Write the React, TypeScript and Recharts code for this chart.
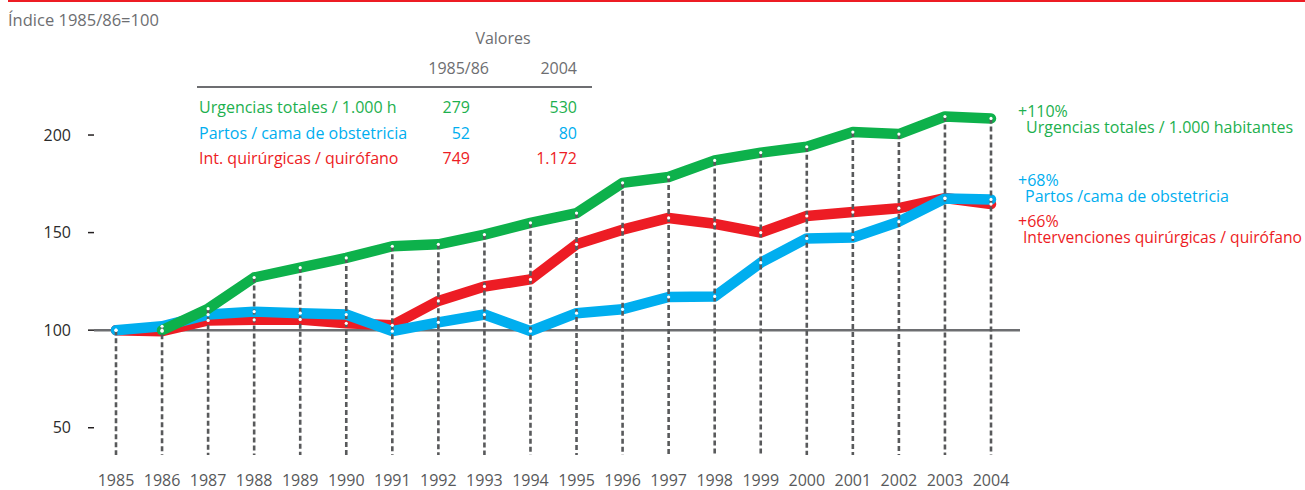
import React from 'react';
import { ComposedChart, Line, XAxis, YAxis, ReferenceLine } from 'recharts';

const YEARS = [1985, 1986, 1987, 1988, 1989, 1990, 1991, 1992, 1993, 1994, 1995, 1996, 1997, 1998, 1999, 2000, 2001, 2002, 2003, 2004];
// índice 1985/86 = 100
const URGENCIAS = [null, 100, 111, 127, 132, 137, 143, 144, 149, 155, 160, 175.5, 178.5, 187, 191, 194, 201.5, 200.5, 209.5, 208.5];
const PARTOS = [100, 102, 108, 109.5, 108.7, 108, 99.5, 104, 108, 99.5, 108.7, 110.7, 117, 117.3, 134.6, 147, 147.5, 155.6, 167.5, 167];
const QUIROFANO = [100, 99.5, 105, 105.3, 105.5, 103.5, 102.5, 115, 122.4, 126, 144, 151.5, 157.5, 154.5, 150, 158.5, 160.5, 162.5, 167.7, 164.6];
const Y_TICKS = [50, 100, 150, 200];

const TABLE_ROWS = [
  { label: 'Urgencias totales / 1.000 h', base: '279', last: '530', color: '#1db04e' },
  { label: 'Partos / cama de obstetricia', base: '52', last: '80', color: '#00aeef' },
  { label: 'Int. quirúrgicas / quirófano', base: '749', last: '1.172', color: '#ed1c24' },
];
const END_LABELS = [
  { pct: '+110%', name: 'Urgencias totales / 1.000 habitantes', color: '#1db04e' },
  { pct: '+68%', name: 'Partos /cama de obstetricia', color: '#00aeef' },
  { pct: '+66%', name: 'Intervenciones quirúrgicas / quirófano', color: '#ed1c24' },
];

const GREEN = '#0db14b';
const BLUE = '#00aeef';
const RED = '#ed1c24';
const GREY = '#6d6e71';
const FONT = '"Open Sans", "Noto Sans", sans-serif';

const W = 1305;
const H = 490;
const X_AXIS_H = 33;
const PLOT_BOTTOM = H - X_AXIS_H;

const data = YEARS.map((year, i) => {
  const vals = [URGENCIAS[i], PARTOS[i], QUIROFANO[i]].filter((v) => v != null) as number[];
  return {
    year,
    urg: URGENCIAS[i],
    partos: PARTOS[i],
    quir: QUIROFANO[i],
    top: Math.max(...vals),
  };
});

// línea punteada vertical desde el punto más alto hasta el pie del gráfico
const DropLine = (props: any) => {
  const { cx, cy, index } = props;
  if (cx == null || cy == null) return <g key={`d${index}`} />;
  return (
    <line
      key={`d${index}`}
      x1={cx} y1={cy} x2={cx} y2={PLOT_BOTTOM - 2}
      stroke="#58595b" strokeWidth={2.6} strokeDasharray="5 3"
    />
  );
};

const lineProps = {
  type: 'linear' as const,
  strokeWidth: 10.5,
  strokeLinecap: 'round' as const,
  strokeLinejoin: 'round' as const,
  dot: { r: 1.6, fill: '#fff', stroke: '#fff', strokeWidth: 0 },
  activeDot: false as const,
  isAnimationActive: false,
};

export default function App() {
  return (
    <div style={{ position: 'absolute', left: 0, top: 0, width: W, height: H, fontFamily: FONT, background: '#fff' }}>
      <ComposedChart width={W} height={H} data={data} margin={{ top: 96, right: 285, bottom: 0, left: 0 }}>
        <XAxis
          dataKey="year" type="number" domain={[1985, 2004]} ticks={YEARS} interval={0}
          padding={{ left: 22, right: 29 }} height={X_AXIS_H}
          axisLine={false} tickLine={false} tickSize={0} tickMargin={18}
          tick={{ fill: '#58595b', fontSize: 16, fontFamily: FONT }}
        />
        <YAxis
          type="number" domain={[35, 220]} ticks={Y_TICKS} width={94}
          axisLine={false} tickLine={{ stroke: '#231f20', strokeWidth: 1.5 }}
          tickSize={6} tickMargin={17}
          tick={{ fill: '#2b2b2b', fontSize: 16, fontFamily: FONT }}
        />
        <ReferenceLine y={100} stroke={GREY} strokeWidth={2.5} />
        <Line dataKey="top" stroke="none" dot={DropLine} activeDot={false} isAnimationActive={false} />
        <Line dataKey="quir" stroke={RED} {...lineProps} />
        <Line dataKey="partos" stroke={BLUE} {...lineProps} />
        <Line dataKey="urg" stroke={GREEN} {...lineProps} />
      </ComposedChart>

      <svg width={W} height={H} style={{ position: 'absolute', left: 0, top: 0, pointerEvents: 'none' }} fontFamily={FONT}>
        <line x1={8} y1={1} x2={W} y2={1} stroke={RED} strokeWidth={2} />
        <text x={8} y={26} fontSize={16.5} fill={GREY}>Índice 1985/86=100</text>

        <text x={503} y={44} fontSize={16} fill={GREY} textAnchor="middle">Valores</text>
        <text x={489} y={74} fontSize={16} fill={GREY} textAnchor="end">1985/86</text>
        <text x={577} y={74} fontSize={16} fill={GREY} textAnchor="end">2004</text>
        <line x1={197} y1={87} x2={592} y2={87} stroke={GREY} strokeWidth={2} />
        {TABLE_ROWS.map((r, i) => (
          <g key={r.label} fontSize={16} fill={r.color}>
            <text x={199} y={113 + i * 25.5}>{r.label}</text>
            <text x={470} y={113 + i * 25.5} textAnchor="end">{r.base}</text>
            <text x={577} y={113 + i * 25.5} textAnchor="end">{r.last}</text>
          </g>
        ))}

        {END_LABELS.map((l, i) => {
          const y = [117, 186, 227][i];
          const nx = [1026, 1025, 1023][i];
          return (
            <g key={l.pct} fontSize={16} fill={l.color}>
              <text x={1018} y={y}>{l.pct}</text>
              <text
                x={nx} y={y + 15.5}
                {...(i === 2 ? { textLength: 279, lengthAdjust: 'spacingAndGlyphs' } : {})}
              >
                {l.name}
              </text>
            </g>
          );
        })}
      </svg>
    </div>
  );
}
